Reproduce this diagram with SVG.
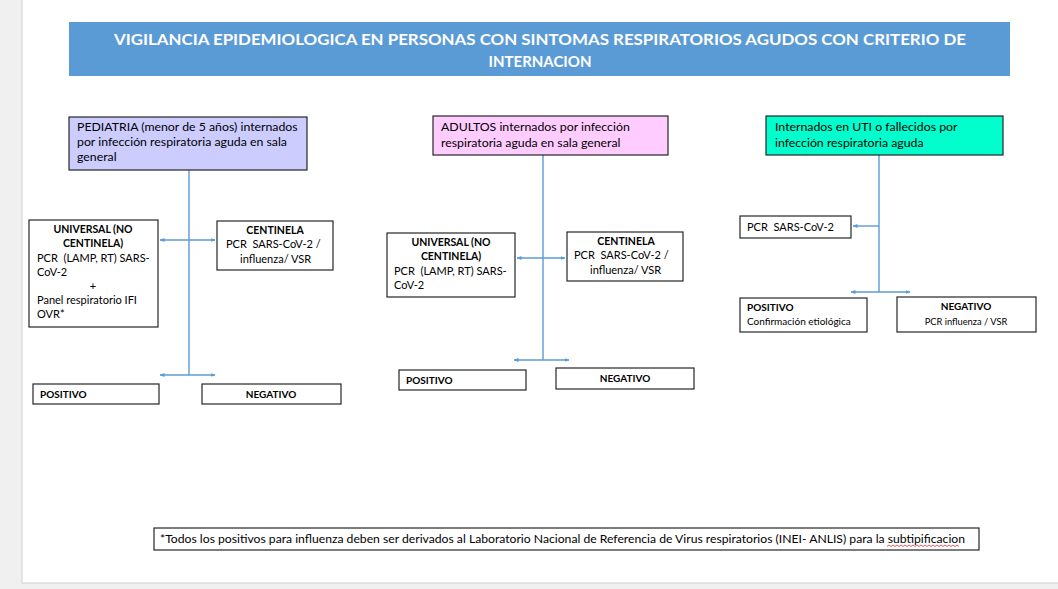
<svg xmlns="http://www.w3.org/2000/svg" width="1058" height="589" viewBox="0 0 1058 589">
<style>
text{font-family:Lato,"Open Sans","Liberation Sans",sans-serif;fill:#000;font-size:11px;white-space:pre}
.b{font-weight:bold}
.h{font-weight:bold;font-size:10.5px}
.box{fill:#fff;stroke:#262626;stroke-width:1.2}
.c{stroke:#5b9bd5;stroke-width:1.4;fill:none}
.m{text-anchor:middle}
.t{font-size:12.3px}
.s{font-size:10px}
.xs{font-size:9.3px}
.title{fill:#fff;font-weight:bold;font-size:15px;text-anchor:middle}
</style>
<defs>
<marker id="ah" viewBox="0 0 10 10" refX="9" refY="5" markerWidth="5" markerHeight="5" orient="auto-start-reverse" markerUnits="userSpaceOnUse">
<path d="M0,1 L10,5 L0,9 z" fill="#5b9bd5"/>
</marker>
</defs>
<rect x="0" y="0" width="1058" height="589" fill="#f0f0f0"/>
<rect x="22" y="-2" width="1040" height="585" fill="#fff" stroke="#d0d0d0" stroke-width="1"/>

<g id="title">
<rect x="69" y="22" width="941" height="54" fill="#5b9bd5"/>
<text class="title" x="540" y="45" textLength="852" lengthAdjust="spacingAndGlyphs">VIGILANCIA EPIDEMIOLOGICA EN PERSONAS CON SINTOMAS RESPIRATORIOS AGUDOS CON CRITERIO DE</text>
<text class="title" x="540" y="67">INTERNACION</text>
</g>

<g id="connectors">
<path class="c" d="M189,170 V375"/>
<path class="c" d="M160,240 H215" marker-start="url(#ah)" marker-end="url(#ah)"/>
<path class="c" d="M160,375 H215" marker-start="url(#ah)" marker-end="url(#ah)"/>
<path class="c" d="M543,155 V360"/>
<path class="c" d="M517,258 H565" marker-start="url(#ah)" marker-end="url(#ah)"/>
<path class="c" d="M514,360 H569" marker-start="url(#ah)" marker-end="url(#ah)"/>
<path class="c" d="M879,155 V292"/>
<path class="c" d="M879,226 H853" marker-end="url(#ah)"/>
<path class="c" d="M851,292 H910" marker-start="url(#ah)" marker-end="url(#ah)"/>
</g>

<g id="pediatria">
<rect x="69" y="117" width="238" height="53" fill="#ccccff" stroke="#262626" stroke-width="1.2"/>
<text class="t" x="77" y="131">PEDIATRIA (menor de 5 años) internados</text>
<text class="t" x="77" y="146">por infección respiratoria aguda en sala</text>
<text class="t" x="77" y="161">general</text>
</g>
<g id="ped-universal">
<rect class="box" x="29" y="220" width="129" height="107"/>
<text class="h m" x="93" y="233">UNIVERSAL (NO</text>
<text class="h m" x="93" y="247">CENTINELA)</text>
<text x="37" y="262">PCR  (LAMP, RT) SARS-</text>
<text x="37" y="276">CoV-2</text>
<text class="m" x="93" y="290">+</text>
<text x="37" y="304">Panel respiratorio IFI</text>
<text x="37" y="318">OVR*</text>
</g>
<g id="ped-centinela">
<rect class="box" x="217" y="221" width="116" height="49"/>
<text class="h m" x="275" y="234">CENTINELA</text>
<text x="226" y="248">PCR  SARS-CoV-2 /</text>
<text x="240" y="263">influenza/ VSR</text>
</g>
<g id="ped-positivo">
<rect class="box" x="33" y="384" width="126" height="20"/>
<text class="b s" x="40" y="397.5">POSITIVO</text>
</g>
<g id="ped-negativo">
<rect class="box" x="202" y="384" width="139" height="20"/>
<text class="b m s" x="271" y="397.5">NEGATIVO</text>
</g>

<g id="adultos">
<rect x="433" y="116" width="235" height="39" fill="#ffccff" stroke="#262626" stroke-width="1.2"/>
<text class="t" x="441" y="131">ADULTOS internados por infección</text>
<text class="t" x="441" y="147">respiratoria aguda en sala general</text>
</g>
<g id="adu-universal">
<rect class="box" x="387" y="233" width="128" height="64"/>
<text class="h m" x="451" y="246">UNIVERSAL (NO</text>
<text class="h m" x="451" y="260">CENTINELA)</text>
<text x="394" y="275">PCR  (LAMP, RT) SARS-</text>
<text x="394" y="289">CoV-2</text>
</g>
<g id="adu-centinela">
<rect class="box" x="567" y="232" width="116" height="49"/>
<text class="h m" x="626" y="245">CENTINELA</text>
<text x="574" y="259">PCR  SARS-CoV-2 /</text>
<text x="590" y="274">influenza/ VSR</text>
</g>
<g id="adu-positivo">
<rect class="box" x="399" y="370" width="127" height="20"/>
<text class="b s" x="406" y="383.5">POSITIVO</text>
</g>
<g id="adu-negativo">
<rect class="box" x="556" y="368" width="138" height="21"/>
<text class="b m s" x="625" y="382">NEGATIVO</text>
</g>

<g id="uti">
<rect x="766" y="116" width="237" height="39" fill="#00ffcc" stroke="#262626" stroke-width="1.2"/>
<text class="t" x="775" y="131">Internados en UTI o fallecidos por</text>
<text class="t" x="775" y="147">infección respiratoria aguda</text>
</g>
<g id="uti-pcr">
<rect class="box" x="740" y="216" width="111" height="22"/>
<text x="747" y="231">PCR  SARS-CoV-2</text>
</g>
<g id="uti-positivo">
<rect class="box" x="740" y="298" width="127" height="34"/>
<text class="b s" x="747" y="311">POSITIVO</text>
<text class="s" x="747" y="325">Confirmación etiológica</text>
</g>
<g id="uti-negativo">
<rect class="box" x="897" y="297" width="139" height="35"/>
<text class="b m s" x="966" y="310">NEGATIVO</text>
<text class="m xs" x="966" y="325">PCR influenza / VSR</text>
</g>

<g id="footnote">
<rect class="box" x="154" y="528" width="825" height="22"/>
<text x="160" y="543" textLength="805" lengthAdjust="spacingAndGlyphs">*Todos los positivos para influenza deben ser derivados al Laboratorio Nacional de Referencia de Virus respiratorios (INEI- ANLIS) para la subtipificacion</text>
<path d="M887,546.5 l2,-1.5 l2,1.5 l2,-1.5 l2,1.5 l2,-1.5 l2,1.5 l2,-1.5 l2,1.5 l2,-1.5 l2,1.5 l2,-1.5 l2,1.5 l2,-1.5 l2,1.5 l2,-1.5 l2,1.5 l2,-1.5 l2,1.5 l2,-1.5 l2,1.5 l2,-1.5 l2,1.5 l2,-1.5 l2,1.5 l2,-1.5 l2,1.5 l2,-1.5 l2,1.5 l2,-1.5 l2,1.5 l2,-1.5 l2,1.5 l2,-1.5 l2,1.5 l2,-1.5 l2,1.5" fill="none" stroke="#e03030" stroke-width="0.8"/>
</g>
</svg>
